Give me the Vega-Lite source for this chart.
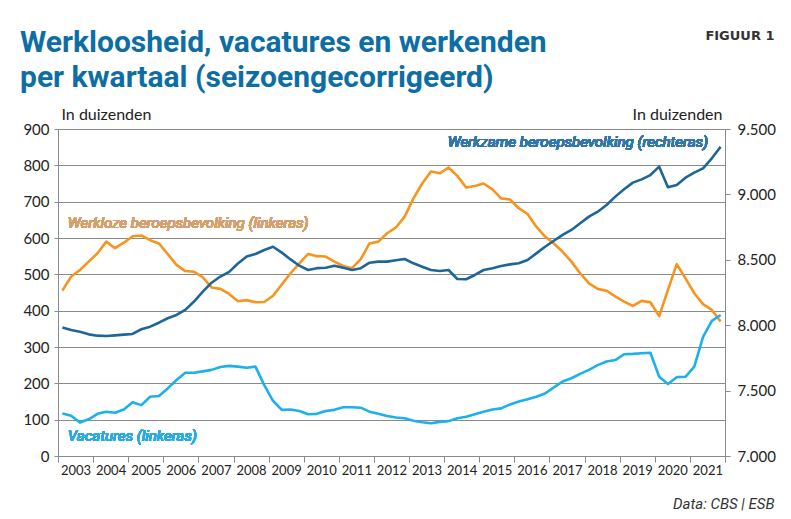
{
  "$schema": "https://vega.github.io/schema/vega-lite/v6.json",
  "width": 667,
  "height": 327,
  "autosize": "none",
  "padding": {"left": 58, "top": 129, "right": 66, "bottom": 63},
  "background": "white",
  "title": {
    "text": ["Werkloosheid, vacatures en werkenden", "per kwartaal (seizoengecorrigeerd)"],
    "anchor": "start",
    "frame": "group",
    "font": "Roboto",
    "fontSize": 30,
    "fontWeight": "bold",
    "color": "#0d6ea5",
    "lineHeight": 35,
    "dx": -38,
    "dy": 64,
    "offset": 0
  },
  "data": {
    "values": [
      {"t": 2003.125, "werkloos": 455, "vacatures": 117, "werkzaam": 7983},
      {"t": 2003.375, "werkloos": 494, "vacatures": 111, "werkzaam": 7963},
      {"t": 2003.625, "werkloos": 512, "vacatures": 92, "werkzaam": 7950},
      {"t": 2003.875, "werkloos": 535, "vacatures": 101, "werkzaam": 7930},
      {"t": 2004.125, "werkloos": 558, "vacatures": 116, "werkzaam": 7920},
      {"t": 2004.375, "werkloos": 590, "vacatures": 122, "werkzaam": 7917},
      {"t": 2004.625, "werkloos": 572, "vacatures": 119, "werkzaam": 7922},
      {"t": 2004.875, "werkloos": 587, "vacatures": 128, "werkzaam": 7928},
      {"t": 2005.125, "werkloos": 605, "vacatures": 148, "werkzaam": 7933},
      {"t": 2005.375, "werkloos": 607, "vacatures": 140, "werkzaam": 7969},
      {"t": 2005.625, "werkloos": 594, "vacatures": 163, "werkzaam": 7989},
      {"t": 2005.875, "werkloos": 585, "vacatures": 165, "werkzaam": 8019},
      {"t": 2006.125, "werkloos": 556, "vacatures": 186, "werkzaam": 8053},
      {"t": 2006.375, "werkloos": 526, "vacatures": 209, "werkzaam": 8078},
      {"t": 2006.625, "werkloos": 509, "vacatures": 229, "werkzaam": 8117},
      {"t": 2006.875, "werkloos": 507, "vacatures": 229, "werkzaam": 8181},
      {"t": 2007.125, "werkloos": 492, "vacatures": 233, "werkzaam": 8256},
      {"t": 2007.375, "werkloos": 464, "vacatures": 237, "werkzaam": 8325},
      {"t": 2007.625, "werkloos": 460, "vacatures": 245, "werkzaam": 8372},
      {"t": 2007.875, "werkloos": 446, "vacatures": 248, "werkzaam": 8408},
      {"t": 2008.125, "werkloos": 426, "vacatures": 246, "werkzaam": 8472},
      {"t": 2008.375, "werkloos": 429, "vacatures": 243, "werkzaam": 8525},
      {"t": 2008.625, "werkloos": 423, "vacatures": 246, "werkzaam": 8544},
      {"t": 2008.875, "werkloos": 424, "vacatures": 195, "werkzaam": 8575},
      {"t": 2009.125, "werkloos": 441, "vacatures": 152, "werkzaam": 8600},
      {"t": 2009.375, "werkloos": 472, "vacatures": 127, "werkzaam": 8555},
      {"t": 2009.625, "werkloos": 503, "vacatures": 128, "werkzaam": 8503},
      {"t": 2009.875, "werkloos": 530, "vacatures": 124, "werkzaam": 8455},
      {"t": 2010.125, "werkloos": 556, "vacatures": 115, "werkzaam": 8422},
      {"t": 2010.375, "werkloos": 550, "vacatures": 116, "werkzaam": 8436},
      {"t": 2010.625, "werkloos": 549, "vacatures": 124, "werkzaam": 8439},
      {"t": 2010.875, "werkloos": 535, "vacatures": 127, "werkzaam": 8455},
      {"t": 2011.125, "werkloos": 523, "vacatures": 134, "werkzaam": 8439},
      {"t": 2011.375, "werkloos": 517, "vacatures": 134, "werkzaam": 8422},
      {"t": 2011.625, "werkloos": 542, "vacatures": 133, "werkzaam": 8436},
      {"t": 2011.875, "werkloos": 585, "vacatures": 122, "werkzaam": 8478},
      {"t": 2012.125, "werkloos": 590, "vacatures": 116, "werkzaam": 8486},
      {"t": 2012.375, "werkloos": 613, "vacatures": 110, "werkzaam": 8486},
      {"t": 2012.625, "werkloos": 629, "vacatures": 106, "werkzaam": 8497},
      {"t": 2012.875, "werkloos": 659, "vacatures": 104, "werkzaam": 8506},
      {"t": 2013.125, "werkloos": 709, "vacatures": 97, "werkzaam": 8473},
      {"t": 2013.375, "werkloos": 750, "vacatures": 93, "werkzaam": 8447},
      {"t": 2013.625, "werkloos": 783, "vacatures": 90, "werkzaam": 8422},
      {"t": 2013.875, "werkloos": 778, "vacatures": 94, "werkzaam": 8414},
      {"t": 2014.125, "werkloos": 794, "vacatures": 96, "werkzaam": 8422},
      {"t": 2014.375, "werkloos": 771, "vacatures": 104, "werkzaam": 8353},
      {"t": 2014.625, "werkloos": 739, "vacatures": 108, "werkzaam": 8351},
      {"t": 2014.875, "werkloos": 743, "vacatures": 115, "werkzaam": 8384},
      {"t": 2015.125, "werkloos": 750, "vacatures": 122, "werkzaam": 8422},
      {"t": 2015.375, "werkloos": 734, "vacatures": 128, "werkzaam": 8435},
      {"t": 2015.625, "werkloos": 709, "vacatures": 131, "werkzaam": 8453},
      {"t": 2015.875, "werkloos": 706, "vacatures": 142, "werkzaam": 8465},
      {"t": 2016.125, "werkloos": 682, "vacatures": 150, "werkzaam": 8473},
      {"t": 2016.375, "werkloos": 666, "vacatures": 156, "werkzaam": 8498},
      {"t": 2016.625, "werkloos": 631, "vacatures": 163, "werkzaam": 8549},
      {"t": 2016.875, "werkloos": 604, "vacatures": 172, "werkzaam": 8600},
      {"t": 2017.125, "werkloos": 585, "vacatures": 189, "werkzaam": 8646},
      {"t": 2017.375, "werkloos": 562, "vacatures": 205, "werkzaam": 8690},
      {"t": 2017.625, "werkloos": 535, "vacatures": 214, "werkzaam": 8728},
      {"t": 2017.875, "werkloos": 503, "vacatures": 226, "werkzaam": 8779},
      {"t": 2018.125, "werkloos": 475, "vacatures": 237, "werkzaam": 8830},
      {"t": 2018.375, "werkloos": 460, "vacatures": 250, "werkzaam": 8868},
      {"t": 2018.625, "werkloos": 455, "vacatures": 260, "werkzaam": 8919},
      {"t": 2018.875, "werkloos": 439, "vacatures": 264, "werkzaam": 8983},
      {"t": 2019.125, "werkloos": 425, "vacatures": 280, "werkzaam": 9039},
      {"t": 2019.375, "werkloos": 413, "vacatures": 281, "werkzaam": 9090},
      {"t": 2019.625, "werkloos": 427, "vacatures": 283, "werkzaam": 9115},
      {"t": 2019.875, "werkloos": 423, "vacatures": 284, "werkzaam": 9148},
      {"t": 2020.125, "werkloos": 385, "vacatures": 218, "werkzaam": 9212},
      {"t": 2020.375, "werkloos": 457, "vacatures": 198, "werkzaam": 9054},
      {"t": 2020.625, "werkloos": 528, "vacatures": 217, "werkzaam": 9072},
      {"t": 2020.875, "werkloos": 489, "vacatures": 218, "werkzaam": 9128},
      {"t": 2021.125, "werkloos": 448, "vacatures": 246, "werkzaam": 9166},
      {"t": 2021.375, "werkloos": 418, "vacatures": 328, "werkzaam": 9199},
      {"t": 2021.625, "werkloos": 402, "vacatures": 372, "werkzaam": 9276},
      {"t": 2021.875, "werkloos": 370, "vacatures": 388, "werkzaam": 9365}
    ]
  },
  "layer": [
    {
      "encoding": {
        "x": {
          "field": "t",
          "type": "quantitative",
          "scale": {"domain": [2003, 2022], "nice": false, "zero": false},
          "axis": {
            "orient": "bottom",
            "values": [2003, 2004, 2005, 2006, 2007, 2008, 2009, 2010, 2011, 2012, 2013, 2014, 2015, 2016, 2017, 2018, 2019, 2020, 2021, 2022],
            "format": "d",
            "labelExpr": "datum.value < 2022 ? datum.label : ''",
            "labelOffset": 17.5,
            "labelFlush": false,
            "labelOverlap": false,
            "labelBound": false,
            "labelFont": "Lato",
            "labelFontSize": 13,
            "labelColor": "#222222",
            "labelPadding": 2,
            "tickSize": 6,
            "tickColor": "#8a8a8a",
            "domainColor": "#8a8a8a",
            "grid": false,
            "title": "Data: CBS | ESB",
            "titleFont": "Roboto",
            "titleFontStyle": "italic",
            "titleFontWeight": "normal",
            "titleFontSize": 15,
            "titleColor": "#333333",
            "titleAlign": "right",
            "titleBaseline": "alphabetic",
            "titleX": 716,
            "titleY": 52
          }
        }
      },
      "layer": [
        {
          "mark": {"type": "line", "color": "#f7941d", "strokeWidth": 2.6, "strokeJoin": "round"},
          "encoding": {
            "y": {
              "field": "werkloos",
              "type": "quantitative",
              "scale": {"domain": [0, 900], "nice": false, "zero": true},
              "axis": {
                "orient": "left",
                "values": [0, 100, 200, 300, 400, 500, 600, 700, 800, 900],
                "grid": true,
                "gridColor": "#8a8a8a",
                "gridWidth": 1,
                "gridOpacity": 1,
                "domainColor": "#8a8a8a",
                "tickColor": "#8a8a8a",
                "tickSize": 4,
                "labelPadding": 5,
                "labelFont": "Lato",
                "labelFontSize": 15,
                "labelColor": "#222222",
                "title": "In duizenden",
                "titleAngle": 0,
                "titleAlign": "left",
                "titleBaseline": "alphabetic",
                "titleX": 3,
                "titleY": -10,
                "titleFont": "Lato",
                "titleFontSize": 16,
                "titleFontWeight": "normal",
                "titleColor": "#222222"
              }
            }
          }
        },
        {
          "mark": {"type": "line", "color": "#1cb0ec", "strokeWidth": 2.6, "strokeJoin": "round"},
          "encoding": {
            "y": {
              "field": "vacatures",
              "type": "quantitative",
              "scale": {"domain": [0, 900], "nice": false, "zero": true},
              "axis": {
                "orient": "left",
                "values": [0, 100, 200, 300, 400, 500, 600, 700, 800, 900],
                "grid": true,
                "gridColor": "#8a8a8a",
                "gridWidth": 1,
                "gridOpacity": 1,
                "domainColor": "#8a8a8a",
                "tickColor": "#8a8a8a",
                "tickSize": 4,
                "labelPadding": 5,
                "labelFont": "Lato",
                "labelFontSize": 15,
                "labelColor": "#222222",
                "title": "In duizenden",
                "titleAngle": 0,
                "titleAlign": "left",
                "titleBaseline": "alphabetic",
                "titleX": 3,
                "titleY": -10,
                "titleFont": "Lato",
                "titleFontSize": 16,
                "titleFontWeight": "normal",
                "titleColor": "#222222"
              }
            }
          }
        },
        {
          "mark": {"type": "text", "align": "left", "baseline": "alphabetic", "font": "Roboto", "fontStyle": "italic", "fontSize": 15, "color": "#d4a16e", "text": "Werkloze beroepsbevolking (linkeras)"},
          "encoding": {
            "x": {"datum": 2003.28, "type": "quantitative"},
            "y": {
              "datum": 627,
              "type": "quantitative",
              "scale": {"domain": [0, 900], "nice": false, "zero": true},
              "axis": {
                "orient": "left",
                "values": [0, 100, 200, 300, 400, 500, 600, 700, 800, 900],
                "grid": true,
                "gridColor": "#8a8a8a",
                "gridWidth": 1,
                "gridOpacity": 1,
                "domainColor": "#8a8a8a",
                "tickColor": "#8a8a8a",
                "tickSize": 4,
                "labelPadding": 5,
                "labelFont": "Lato",
                "labelFontSize": 15,
                "labelColor": "#222222",
                "title": "In duizenden",
                "titleAngle": 0,
                "titleAlign": "left",
                "titleBaseline": "alphabetic",
                "titleX": 3,
                "titleY": -10,
                "titleFont": "Lato",
                "titleFontSize": 16,
                "titleFontWeight": "normal",
                "titleColor": "#222222"
              }
            }
          }
        },
        {
          "mark": {"type": "text", "align": "left", "baseline": "alphabetic", "font": "Roboto", "fontStyle": "italic", "fontSize": 15, "color": "#29aae1", "text": "Vacatures (linkeras)"},
          "encoding": {
            "x": {"datum": 2003.28, "type": "quantitative"},
            "y": {
              "datum": 41,
              "type": "quantitative",
              "scale": {"domain": [0, 900], "nice": false, "zero": true},
              "axis": {
                "orient": "left",
                "values": [0, 100, 200, 300, 400, 500, 600, 700, 800, 900],
                "grid": true,
                "gridColor": "#8a8a8a",
                "gridWidth": 1,
                "gridOpacity": 1,
                "domainColor": "#8a8a8a",
                "tickColor": "#8a8a8a",
                "tickSize": 4,
                "labelPadding": 5,
                "labelFont": "Lato",
                "labelFontSize": 15,
                "labelColor": "#222222",
                "title": "In duizenden",
                "titleAngle": 0,
                "titleAlign": "left",
                "titleBaseline": "alphabetic",
                "titleX": 3,
                "titleY": -10,
                "titleFont": "Lato",
                "titleFontSize": 16,
                "titleFontWeight": "normal",
                "titleColor": "#222222"
              }
            }
          }
        }
      ]
    },
    {
      "encoding": {
        "x": {
          "field": "t",
          "type": "quantitative",
          "scale": {"domain": [2003, 2022], "nice": false, "zero": false},
          "axis": {
            "orient": "top",
            "labels": false,
            "ticks": false,
            "domain": false,
            "grid": false,
            "title": "FIGUUR 1",
            "titleFont": "DejaVu Sans",
            "titleFontWeight": "bold",
            "titleFontSize": 13,
            "titleColor": "#333333",
            "titleAlign": "right",
            "titleBaseline": "alphabetic",
            "titleX": 716,
            "titleY": -90
          }
        }
      },
      "layer": [
        {
          "mark": {"type": "line", "color": "#1e6698", "strokeWidth": 2.6, "strokeJoin": "round"},
          "encoding": {
            "y": {
              "field": "werkzaam",
              "type": "quantitative",
              "scale": {"domain": [7000, 9500], "nice": false, "zero": false},
              "axis": {
                "orient": "right",
                "values": [7000, 7500, 8000, 8500, 9000, 9500],
                "labelExpr": "replace(format(datum.value, ','), ',', '.')",
                "grid": false,
                "domainColor": "#8a8a8a",
                "tickColor": "#8a8a8a",
                "tickSize": 5,
                "labelPadding": 7,
                "labelFont": "Lato",
                "labelFontSize": 15,
                "labelColor": "#222222",
                "title": "In duizenden",
                "titleAngle": 0,
                "titleAlign": "right",
                "titleBaseline": "alphabetic",
                "titleX": -3,
                "titleY": -10,
                "titleFont": "Lato",
                "titleFontSize": 16,
                "titleFontWeight": "normal",
                "titleColor": "#222222"
              }
            }
          }
        },
        {
          "mark": {"type": "text", "align": "right", "baseline": "alphabetic", "font": "Roboto", "fontStyle": "italic", "fontSize": 15, "color": "#2f78a8", "text": "Werkzame beroepsbevolking (rechteras)"},
          "encoding": {
            "x": {"datum": 2021.52, "type": "quantitative"},
            "y": {
              "datum": 9362,
              "type": "quantitative",
              "scale": {"domain": [7000, 9500], "nice": false, "zero": false},
              "axis": {
                "orient": "right",
                "values": [7000, 7500, 8000, 8500, 9000, 9500],
                "labelExpr": "replace(format(datum.value, ','), ',', '.')",
                "grid": false,
                "domainColor": "#8a8a8a",
                "tickColor": "#8a8a8a",
                "tickSize": 5,
                "labelPadding": 7,
                "labelFont": "Lato",
                "labelFontSize": 15,
                "labelColor": "#222222",
                "title": "In duizenden",
                "titleAngle": 0,
                "titleAlign": "right",
                "titleBaseline": "alphabetic",
                "titleX": -3,
                "titleY": -10,
                "titleFont": "Lato",
                "titleFontSize": 16,
                "titleFontWeight": "normal",
                "titleColor": "#222222"
              }
            }
          }
        }
      ]
    }
  ],
  "resolve": {"scale": {"y": "independent"}, "axis": {"x": "independent"}},
  "config": {"view": {"stroke": null}}
}
